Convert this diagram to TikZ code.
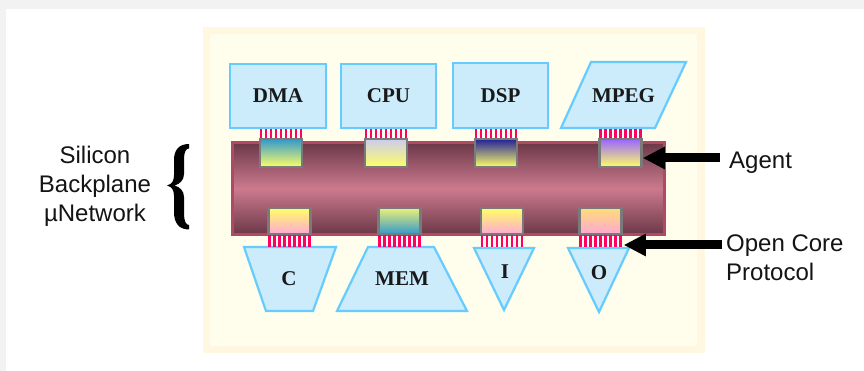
\documentclass[tikz,border=0pt]{standalone}
\usepackage{fontspec}
\setmainfont{Liberation Serif}
\newfontfamily\labelsans{Liberation Sans}
\usetikzlibrary{arrows.meta}
\definecolor{pagegray}{HTML}{F2F2F2}
\definecolor{panelrim}{HTML}{FFF7DF}
\definecolor{panelfill}{HTML}{FFFDEB}
\definecolor{boxfill}{HTML}{CCEBFB}
\definecolor{boxline}{HTML}{66CCFF}
\definecolor{pinred}{HTML}{FF0066}
\definecolor{agentline}{HTML}{7A7A7A}
\definecolor{busline}{HTML}{B04A64}
\definecolor{busdark}{HTML}{6B3848}
\definecolor{buslight}{HTML}{CC7A8E}
\definecolor{agyellow}{HTML}{FFFF66}
\definecolor{agteal}{HTML}{3399CC}
\definecolor{aglav}{HTML}{CCCCEE}
\definecolor{agnavy}{HTML}{222299}
\definecolor{agpurple}{HTML}{9966FF}
\definecolor{agpink}{HTML}{FFA8D4}
\definecolor{agorange}{HTML}{FFDD77}
\definecolor{aggreen}{HTML}{EEF077}
\tikzset{
  cbox/.style={draw=boxline, fill=boxfill, line width=2.2pt, inner sep=0pt,
    font=\fontsize{21}{24}\selectfont\bfseries, text=black!90},
  cshape/.style={draw=boxline, fill=boxfill, line width=2.2pt, line join=miter},
  clabel/.style={inner sep=0pt, font=\fontsize{21}{24}\selectfont\bfseries, text=black!90},
  agentbox/.style={draw=agentline, line width=2.5pt, inner sep=0pt,
    minimum width=42pt, minimum height=28pt},
  pin/.style={draw=pinred, line width=2.6pt},
  sidelabel/.style={inner sep=0pt, font=\labelsans\fontsize{24}{29}\selectfont, text=black!92},
  bigarrow/.style={draw=black, line width=9pt, -{Triangle[length=22pt,width=21pt]}}
}
\newcommand\pinrow[3]{\foreach \k in {0,...,8}{\draw[pin] ({#1-20+\k*5},#2) -- ({#1-20+\k*5},#3);}}
\begin{document}
\begin{tikzpicture}[x=1pt,y=-1pt]
\useasboundingbox (0,0) rectangle (864,371);
% page
\fill[pagegray] (0,0) rectangle (864,371);
\fill[white] (6,9) rectangle (864,371);
% panel
\fill[panelrim] (203,27) rectangle (705,353);
\fill[panelfill] (210,34) rectangle (697,346);
% bus
\node[draw=busline, line width=3pt, minimum width=432pt, minimum height=92pt, inner sep=0pt,
  top color=busdark, bottom color=busdark, middle color=buslight] (bus) at (448.5,188.5) {};
% top cores
\node[cbox, minimum width=96pt, minimum height=64pt] (dma) at (278,96) {DMA};
\node[cbox, minimum width=95pt, minimum height=64pt] (cpu) at (388.5,96) {CPU};
\node[cbox, minimum width=95pt, minimum height=65pt] (dsp) at (500.5,95.5) {DSP};
\draw[cshape] (591,62) -- (686,62) -- (655,128) -- (561,128) -- cycle;
\node[clabel] (mpeg) at (623.5,96) {MPEG};
% bottom cores
\draw[cshape] (244,247) -- (336,247) -- (313,311) -- (266,311) -- cycle;
\node[clabel] (c) at (289,279) {C};
\draw[cshape] (368,247) -- (434,247) -- (467,311) -- (337,311) -- cycle;
\node[clabel] (mem) at (402,279) {MEM};
\draw[cshape] (474,248) -- (534,248) -- (504,310) -- cycle;
\node[clabel] (i) at (505,272) {I};
\draw[cshape] (568,248) -- (629,248) -- (599,312) -- cycle;
\node[clabel] (o) at (599,273) {O};
% pins
\pinrow{281}{129}{139}
\pinrow{386}{129}{139}
\pinrow{496}{129}{139}
\pinrow{620.5}{129}{139}
\pinrow{289.5}{235}{247}
\pinrow{399.5}{235}{247}
\pinrow{502}{235}{247}
\pinrow{600.5}{235}{247}
% agents
\node[agentbox, top color=agteal, bottom color=agyellow] (adma) at (281,153) {};
\node[agentbox, top color=aglav, bottom color=agyellow] (acpu) at (386,153) {};
\node[agentbox, top color=agnavy, bottom color=agyellow] (adsp) at (496,153) {};
\node[agentbox, top color=agpurple, bottom color=agyellow] (ampeg) at (620.5,153) {};
\node[agentbox, minimum height=26pt, top color=agyellow, bottom color=agpink] (ac) at (289.5,221) {};
\node[agentbox, minimum height=26pt, top color=aggreen, bottom color=agteal] (amem) at (399.5,221) {};
\node[agentbox, minimum height=26pt, top color=agyellow, bottom color=agpink] (ai) at (502,221) {};
\node[agentbox, minimum height=26pt, top color=agorange, bottom color=agpink] (ao) at (600.5,221) {};
% side labels
\node[sidelabel, align=center] (silicon) at (95,186) {Silicon\\Backplane\\µNetwork};
\node[sidelabel, anchor=base west] (agentlbl) at (729,169) {Agent};
\node[sidelabel, align=left, anchor=west] (ocp) at (726,258) {Open Core\\Protocol};
% brace
\fill[black] (189,144) .. controls (179,144) and (174,150) .. (174,160) -- (174,175)
  .. controls (174,181) and (172,184) .. (167,185.5)
  .. controls (172,187) and (174,190) .. (174,196) -- (174,212)
  .. controls (174,223) and (179,229.5) .. (189,229.5)
  -- (189,225) .. controls (186,225) and (184,221) .. (184,214) -- (184,197)
  .. controls (184,191) and (180,187) .. (174.5,185.5)
  .. controls (180,184) and (184,180) .. (184,174) -- (184,159)
  .. controls (184,152) and (186,148.5) .. (189,148.5) -- cycle;
% arrows
\coordinate (agenttail) at (720,158);
\coordinate (ocptail) at (722,245);
\draw[bigarrow] (agenttail) -- (ampeg.east |- agenttail);
\draw[bigarrow] (ocptail) -- ([xshift=1pt]ao.east |- ocptail);
\end{tikzpicture}
\end{document}
